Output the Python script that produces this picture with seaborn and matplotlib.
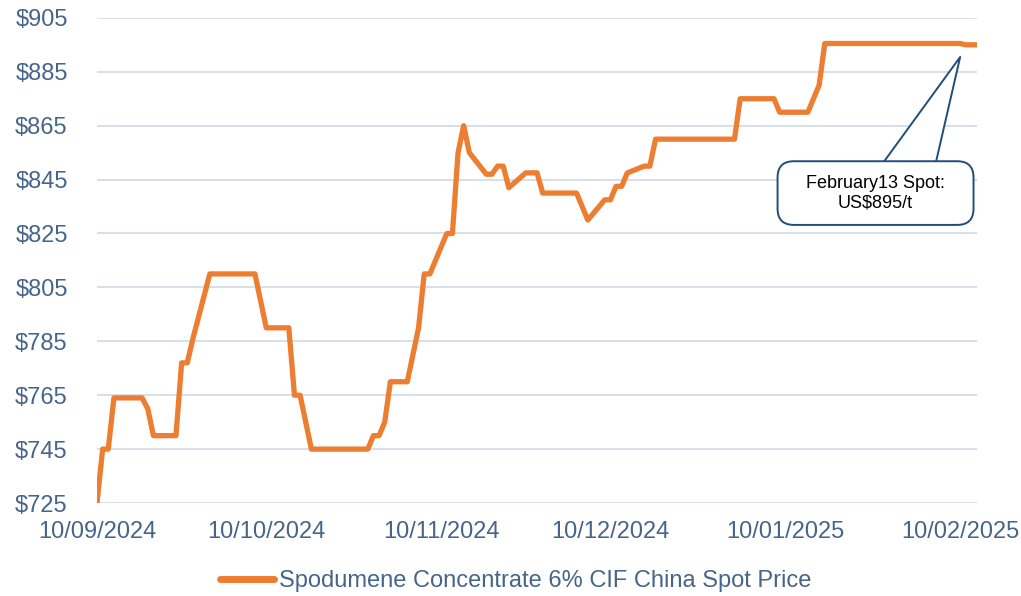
import pandas as pd
import seaborn as sns
import matplotlib
matplotlib.use("Agg")
from matplotlib import pyplot as plt
import matplotlib.dates as mdates
from matplotlib.ticker import FuncFormatter

# spot price readings (US$/t)
dates = [
    "2024-09-10", "2024-09-11", "2024-09-12", "2024-09-13", "2024-09-18",
    "2024-09-19", "2024-09-20", "2024-09-24", "2024-09-25", "2024-09-26",
    "2024-09-27", "2024-09-30", "2024-10-08", "2024-10-10", "2024-10-14",
    "2024-10-15", "2024-10-16", "2024-10-18", "2024-10-28", "2024-10-29",
    "2024-10-30", "2024-10-31", "2024-11-01", "2024-11-04", "2024-11-06",
    "2024-11-07", "2024-11-08", "2024-11-11", "2024-11-12", "2024-11-13",
    "2024-11-14", "2024-11-15", "2024-11-18", "2024-11-19", "2024-11-20",
    "2024-11-21", "2024-11-22", "2024-11-25", "2024-11-27", "2024-11-28",
    "2024-12-04", "2024-12-06", "2024-12-09", "2024-12-10", "2024-12-11",
    "2024-12-12", "2024-12-13", "2024-12-16", "2024-12-17", "2024-12-18",
    "2025-01-01", "2025-01-02", "2025-01-08", "2025-01-09", "2025-01-14",
    "2025-01-16", "2025-01-17", "2025-02-10", "2025-02-11", "2025-02-13",
]
prices = [
    725, 745, 745, 764, 764,
    760, 750, 750, 777, 777,
    786, 810, 810, 790, 790,
    765, 765, 745, 745, 750,
    750, 755, 770, 770, 790,
    810, 810, 825, 825, 855,
    865, 855, 847, 847, 850,
    850, 842, 847.5, 847.5, 840,
    840, 830, 837.5, 837.5, 842.5,
    842.5, 847.5, 850, 850, 860,
    860, 875, 875, 870, 870,
    880, 895.5, 895.5, 895, 895,
]
series_name = "Spodumene Concentrate 6% CIF China Spot Price"
y_ticks = [725, 745, 765, 785, 805, 825, 845, 865, 885, 905]
x_ticks = ["2024-09-10", "2024-10-10", "2024-11-10", "2024-12-10",
           "2025-01-10", "2025-02-10"]
callout_text = "   February13 Spot:   \nUS$895/t"

df = pd.DataFrame({"date": pd.to_datetime(dates), "price": prices,
                   "series": series_name})

sns.set_style("white")
plt.rcParams["font.family"] = ["Liberation Sans", "DejaVu Sans"]

label_col = "#46658A"
grid_col = "#D3DDE8"
line_col = "#ED7D31"
box_col = "#1F4E79"

fig = plt.figure(figsize=(10.21, 5.96), dpi=100)
ax = fig.add_axes([0.095, 0.156, 0.862, 0.814])

sns.lineplot(data=df, x="date", y="price", hue="series", palette=[line_col],
             linewidth=3.8, ax=ax, legend=False)

ax.set_xlim(df["date"].min(), df["date"].max())
ax.set_ylim(y_ticks[0], y_ticks[-1])
ax.set_yticks(y_ticks)
ax.yaxis.set_major_formatter(FuncFormatter(lambda v, p: "$%d" % v))
ax.set_xticks(pd.to_datetime(x_ticks))
ax.xaxis.set_major_formatter(mdates.DateFormatter("%d/%m/%Y"))

ax.grid(axis="y", color=grid_col, linewidth=1.3)
ax.set_axisbelow(True)
for s in ax.spines.values():
    s.set_visible(False)
ax.tick_params(axis="both", length=0, labelsize=17, labelcolor=label_col)
ax.tick_params(axis="y", pad=21)
ax.tick_params(axis="x", pad=13)
ax.set_xlabel("")
ax.set_ylabel("")

# callout: wedge pointer first, then the rounded box on top of it
tip = (pd.Timestamp("2025-02-10"), 890.5)
ax.annotate("", xy=tip, xytext=(pd.Timestamp("2025-01-30"), 840.0),
            zorder=5,
            arrowprops=dict(arrowstyle="wedge,tail_width=4.4,shrink_factor=0.5",
                            fc="white", ec=box_col, lw=1.4, mutation_scale=10,
                            shrinkA=0, shrinkB=0))
ax.text(pd.Timestamp("2025-01-26"), 840.0, callout_text, fontsize=13,
        color="black", ha="center", va="center", linespacing=1.2, zorder=6,
        bbox=dict(boxstyle="round,pad=0.75,rounding_size=0.9",
                  fc="white", ec=box_col, lw=1.4))

handle = plt.Line2D([], [], color=line_col, linewidth=5)
fig.legend([handle], [series_name], loc="center", bbox_to_anchor=(0.505, 0.025),
           frameon=False, fontsize=17, handlelength=2.3, handletextpad=0.2,
           labelcolor=label_col)

fig.savefig("out.png", dpi=100)
